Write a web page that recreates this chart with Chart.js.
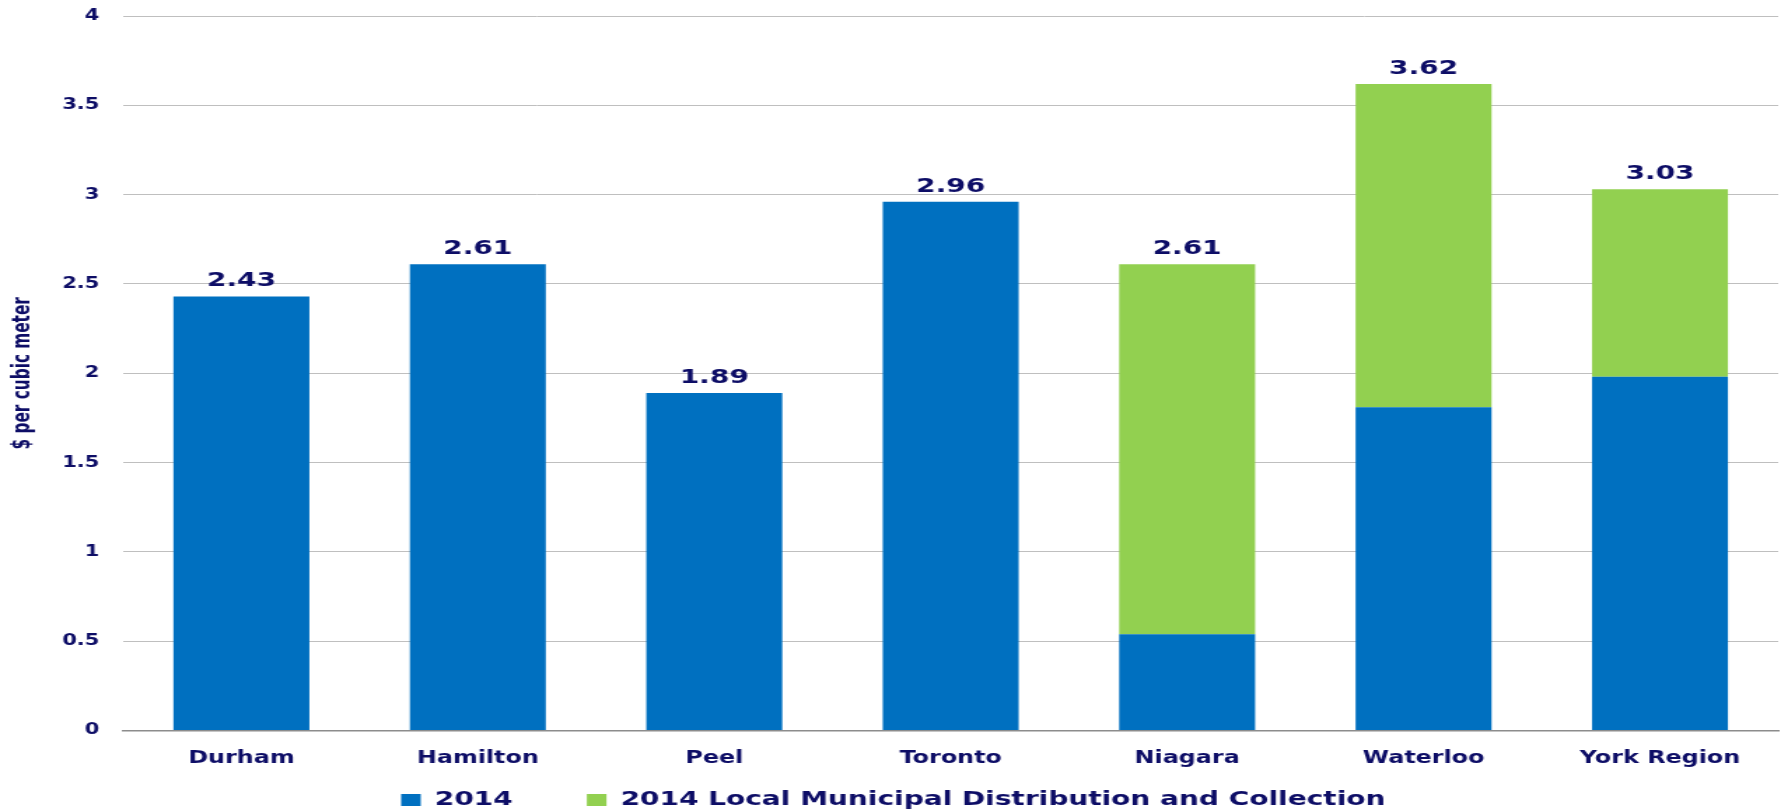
<!DOCTYPE html>
<html>
<head>
<meta charset="utf-8">
<script src="https://cdn.jsdelivr.net/npm/chart.js@4.4.1/dist/chart.umd.min.js"></script>
<style>
  html, body { margin: 0; padding: 0; background: #fff; overflow: hidden; }
  /* the chart is drawn narrow and stretched out to the full page width */
  #wrap { width: 1272px; height: 810px; transform: scaleX(1.40016); transform-origin: 0 0; }
</style>
</head>
<body>
<div id="wrap"><canvas id="canvas-chart" width="1272" height="810"></canvas></div>
<script>
const regions = ["Durham", "Hamilton", "Peel", "Toronto", "Niagara", "Waterloo", "York Region"];
const rates2014 = [2.43, 2.61, 1.89, 2.96, 0.54, 1.81, 1.98];
const localDistribution = [0, 0, 0, 0, 2.07, 1.81, 1.05];
const yTicks = [0, 0.5, 1, 1.5, 2, 2.5, 3, 3.5, 4];

const navy = "#0d0d66";
const canvas = document.getElementById("canvas-chart");

// total of each stack, written above the top segment
const totalLabels = {
  id: "totalLabels",
  afterDatasetsDraw(chart) {
    const ctx = chart.ctx;
    const topMeta = chart.getDatasetMeta(chart.data.datasets.length - 1);
    ctx.save();
    ctx.font = "bold 20px 'DejaVu Sans'";
    ctx.fillStyle = navy;
    ctx.textAlign = "center";
    ctx.textBaseline = "alphabetic";
    topMeta.data.forEach((bar, i) => {
      const total = rates2014[i] + localDistribution[i];
      ctx.fillText(total.toFixed(2), bar.x, bar.y - 10);
    });
    ctx.restore();
  },
};

const waterChart = new Chart(canvas, {
  type: "bar",
  data: {
    labels: regions,
    datasets: [
      {
        label: "2014",
        data: rates2014,
        backgroundColor: "#0070c0",
        barPercentage: 0.575,
        categoryPercentage: 1,
      },
      {
        label: "2014 Local Municipal Distribution and Collection",
        data: localDistribution,
        backgroundColor: "#92d050",
        barPercentage: 0.575,
        categoryPercentage: 1,
      },
    ],
  },
  options: {
    responsive: false,
    animation: false,
    layout: {
      padding: { top: 16, left: 6, right: 2, bottom: -10 },
    },
    plugins: {
      tooltip: { enabled: false },
      legend: {
        position: "bottom",
        labels: {
          color: navy,
          font: { family: "DejaVu Sans", weight: "bold", size: 20 },
          boxWidth: 14,
          boxHeight: 12,
          padding: 3,
          generateLabels(chart) {
            const items = Chart.defaults.plugins.legend.labels.generateLabels(chart);
            items[0].text = items[0].text + "\u2003\u2003\u2002";
            return items;
          },
        },
      },
    },
    scales: {
      x: {
        stacked: true,
        grid: { display: false, drawTicks: false },
        border: { color: "#8c8c8c", width: 1.5 },
        ticks: {
          color: navy,
          padding: 18,
          font: { family: "DejaVu Sans", weight: "bold", size: 17 },
        },
      },
      y: {
        stacked: true,
        min: 0,
        max: 4,
        afterBuildTicks(axis) {
          axis.ticks = yTicks.map((v) => ({ value: v }));
        },
        grid: { color: "#bfbfbf", lineWidth: 1, drawTicks: true, tickLength: 17, tickColor: "rgba(0,0,0,0)" },
        border: { display: false },
        ticks: {
          color: navy,
          padding: 0,
          font: { family: "DejaVu Sans", weight: "bold", size: 15 },
          callback: (v) => String(v),
        },
        title: {
          display: true,
          text: "$ per cubic meter",
          color: navy,
          padding: { top: 0, bottom: 18 },
          font: { family: "'Liberation Sans Narrow', 'DejaVu Sans Condensed'", weight: "bold", size: 17 },
        },
      },
    },
  },
  plugins: [totalLabels],
});
</script>
</body>
</html>
